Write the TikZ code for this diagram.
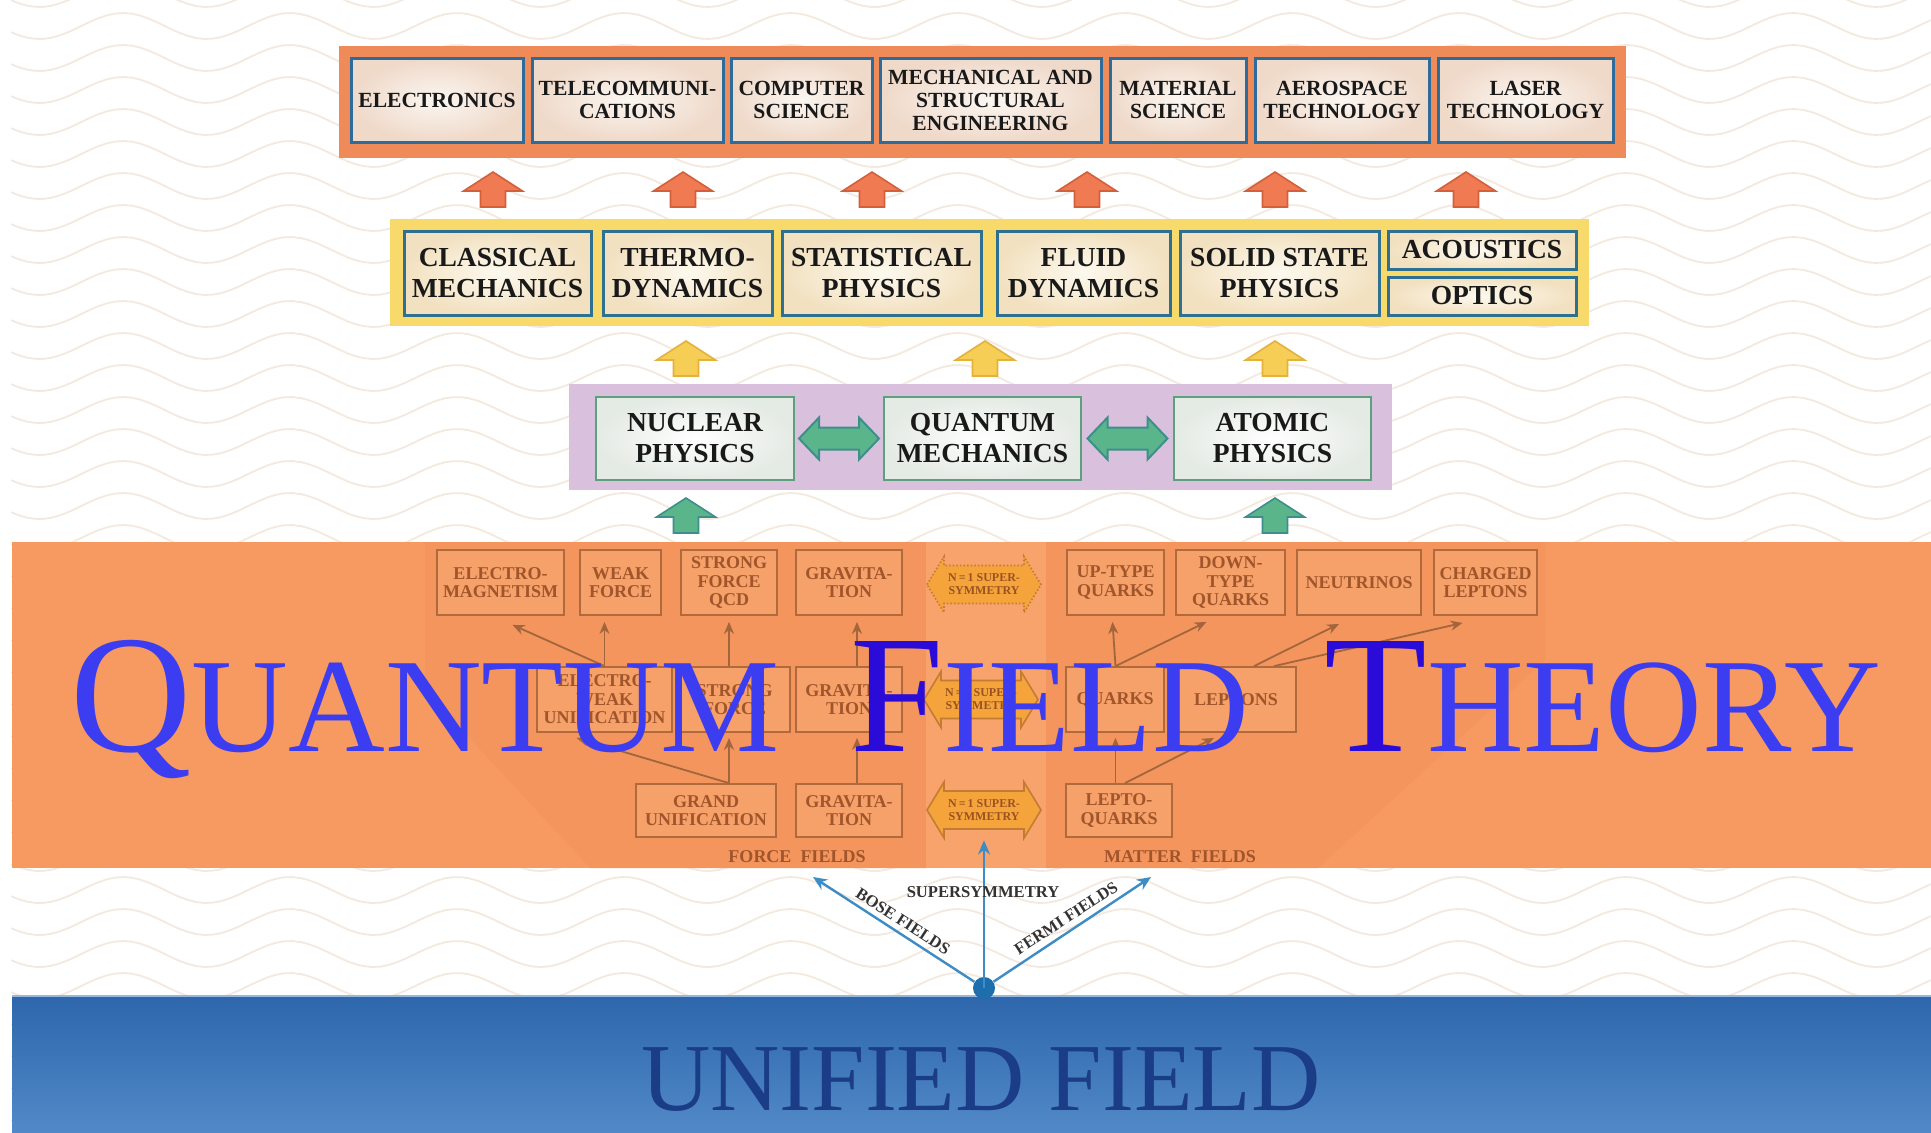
\documentclass[tikz,border=0pt]{standalone}
\usepackage{fontspec}
\usepackage{graphicx}
\setmainfont{Liberation Serif}
\usetikzlibrary{arrows.meta,calc}
\definecolor{waveC}{HTML}{F4E9DE}
\definecolor{engP}{HTML}{EF8B58}
\definecolor{engB}{HTML}{2E6B9A}
\definecolor{engIn}{HTML}{FBF6F1}
\definecolor{engOut}{HTML}{EFD9C9}
\definecolor{yelP}{HTML}{F8D96C}
\definecolor{phyB}{HTML}{2F6F8F}
\definecolor{phyIn}{HTML}{FDF9EF}
\definecolor{phyOut}{HTML}{F2E1C0}
\definecolor{purP}{HTML}{D9C1DD}
\definecolor{qB}{HTML}{5E9F7E}
\definecolor{qIn}{HTML}{FFFFFF}
\definecolor{qOut}{HTML}{E4EAE4}
\definecolor{arrOrF}{HTML}{F07A52}
\definecolor{arrOrD}{HTML}{D2603A}
\definecolor{arrYeF}{HTML}{F6CE55}
\definecolor{arrYeD}{HTML}{E2B23A}
\definecolor{arrGrF}{HTML}{5BB58A}
\definecolor{arrGrD}{HTML}{3E8F8C}
\definecolor{bandC}{HTML}{F79A62}
\definecolor{panelC}{HTML}{F4955D}
\definecolor{centerC}{HTML}{F8A26C}
\definecolor{fF}{HTML}{F6A06A}
\definecolor{fB}{HTML}{B06A3C}
\definecolor{fT}{HTML}{A0552A}
\definecolor{susyF}{HTML}{F5A43C}
\definecolor{susyD}{HTML}{C47C33}
\definecolor{susyT}{HTML}{9A5220}
\definecolor{fLine}{HTML}{A2653C}
\definecolor{titleC}{HTML}{3C3CF0}
\definecolor{titleD}{HTML}{2A0BD8}
\definecolor{blueT}{HTML}{2D66AB}
\definecolor{blueB}{HTML}{5189C8}
\definecolor{ufC}{HTML}{1B3C86}
\definecolor{dotC}{HTML}{1E6EAE}
\definecolor{blueArr}{HTML}{3D8CC6}
\definecolor{labC}{HTML}{333333}
\tikzset{
  upar/.pic={\path[pic actions] (-12.5,0) -- (-12.5,-16) -- (-29.5,-16) -- (0,-35) -- (29.5,-16) -- (12.5,-16) -- (12.5,0) -- cycle;},
  gdbl/.pic={\path[pic actions] (-40,0) -- (-20,-21) -- (-20,-11) -- (20,-11) -- (20,-21) -- (40,0) -- (20,21) -- (20,11) -- (-20,11) -- (-20,21) -- cycle;},
  sdbl/.pic={\path[pic actions] (-57,0) -- (-40,-28) -- (-40,-19) -- (40,-19) -- (40,-28) -- (57,0) -- (40,28) -- (40,19) -- (-40,19) -- (-40,28) -- cycle;},
}
\begin{document}
\begin{tikzpicture}[x=0.5pt,y=-0.5pt,
  engbox/.style={draw=engB, line width=1.5pt, inner color=engIn, outer color=engOut, text=black!90, font=\bfseries\fontsize{10.8}{11.5}\selectfont, align=center, inner sep=0pt, minimum height=42pt},
  phybox/.style={draw=phyB, line width=1.5pt, inner color=phyIn, outer color=phyOut, text=black!90, font=\bfseries\fontsize{13.75}{15.5}\selectfont, align=center, inner sep=0pt, minimum height=42pt},
  qbox/.style={draw=qB, line width=1.2pt, inner color=qIn, outer color=qOut, text=black!90, font=\bfseries\fontsize{13.75}{15.5}\selectfont, align=center, inner sep=0pt, minimum height=41.5pt},
  fbox/.style={draw=fB, line width=0.9pt, fill=fF, text=fT, font=\bfseries\fontsize{9}{9.25}\selectfont, align=center, inner sep=0pt, minimum height=32.5pt},
  susytxt/.style={text=susyT, font=\bfseries\fontsize{6}{6.5}\selectfont, align=center, inner sep=0pt, minimum width=57pt, minimum height=28pt},
  fl/.style={draw=fLine, line width=0.9pt, -{Stealth[length=6pt,width=5pt]}},
  bl/.style={draw=blueArr, line width=1.2pt, -{Stealth[length=7pt,width=6pt]}},
  panel/.style={inner sep=0pt},
  flab/.style={text=fT, font=\bfseries\fontsize{9}{9}\selectfont, inner sep=0pt},
  blab/.style={text=labC, font=\bfseries\fontsize{8.3}{8.3}\selectfont, inner sep=0pt},
]
\useasboundingbox (0,0) rectangle (1931,1132);
\fill[white] (0,0) rectangle (1931,1132);
% wavy background
\begin{scope}
  \clip (11,0) rectangle (1931,1132);
  \foreach \k in {0,...,35}{
    \draw[waveC, line width=0.9pt] plot[domain=11:1931, samples=240] (\x, {-6+32*\k - 13*cos((\x-123)*2.1557)});
  }
\end{scope}
% bands
\fill[bandC] (12,542) rectangle (1931,868);
\fill[panelC] (425,542) -- (926,542) -- (926,868) -- (590,868) -- (425,690) -- cycle;
\fill[panelC] (1046,542) -- (1545,542) -- (1545,660) -- (1318,868) -- (1046,868) -- cycle;
\fill[centerC] (926,542) rectangle (1046,868);
\shade[top color=blueT, bottom color=blueB] (12,995) rectangle (1931,1132);
\draw[blueB!60!white, line width=1pt] (12,995.5) -- (1931,995.5);

% engineering row
\node[panel, fill=engP, minimum width=643.5pt, minimum height=56pt] (engpanel) at (982.5,102) {};
\node[engbox, minimum width=86pt] (elec) at (437,100) {ELECTRONICS};
\node[engbox, minimum width=95.5pt] (tele) at (627.5,100) {TELECOMMUNI-\\CATIONS};
\node[engbox, minimum width=70.5pt] (comp) at (801.5,100) {COMPUTER\\SCIENCE};
\node[engbox, minimum width=110.5pt] (mech) at (990.5,100) {MECHANICAL AND\\STRUCTURAL\\ENGINEERING};
\node[engbox, minimum width=68pt] (matl) at (1178,100) {MATERIAL\\SCIENCE};
\node[engbox, minimum width=87pt] (aero) at (1342,100) {AEROSPACE\\TECHNOLOGY};
\node[engbox, minimum width=87.5pt] (laser) at (1525.5,100) {LASER\\TECHNOLOGY};

% orange up arrows
\foreach \ax in {493,683,872,1087,1275,1466}{
  \pic[fill=arrOrF, draw=arrOrD, line width=0.8pt] at (\ax,207) {upar};
}

% physics row
\node[panel, fill=yelP, minimum width=599.5pt, minimum height=53.5pt] (phypanel) at (989.5,272.5) {};
\node[phybox, minimum width=93.5pt] (cm) at (497.5,273) {CLASSICAL\\MECHANICS};
\node[phybox, minimum width=84.5pt] (thermo) at (687.5,273) {THERMO-\\DYNAMICS};
\node[phybox, minimum width=99.5pt] (stat) at (881.5,273) {STATISTICAL\\PHYSICS};
\node[phybox, minimum width=86.5pt] (fluid) at (1083.5,273) {FLUID\\DYNAMICS};
\node[phybox, minimum width=99.5pt] (solid) at (1279.5,273) {SOLID STATE\\PHYSICS};
\node[phybox, minimum width=94pt, minimum height=19pt] (acou) at (1482,250) {ACOUSTICS};
\node[phybox, minimum width=94pt, minimum height=19pt] (optics) at (1482,296) {OPTICS};

% yellow up arrows
\foreach \ax in {686,985,1275}{
  \pic[fill=arrYeF, draw=arrYeD, line width=0.8pt] at (\ax,376) {upar};
}

% quantum row
\node[panel, fill=purP, minimum width=411.5pt, minimum height=53pt] (qpanel) at (980.5,437) {};
\node[qbox, minimum width=99pt] (nuc) at (695,438.5) {NUCLEAR\\PHYSICS};
\node[qbox, minimum width=98.5pt] (qm) at (982.5,438.5) {QUANTUM\\MECHANICS};
\node[qbox, minimum width=98.5pt] (atom) at (1272.5,438.5) {ATOMIC\\PHYSICS};
\pic[fill=arrGrF, draw=arrGrD, line width=1pt] at ($(nuc.east)!0.5!(qm.west)$) {gdbl};
\pic[fill=arrGrF, draw=arrGrD, line width=1pt] at ($(qm.east)!0.5!(atom.west)$) {gdbl};

% green up arrows
\foreach \ax in {686,1275}{
  \pic[fill=arrGrF, draw=arrGrD, line width=0.8pt] at (\ax,533) {upar};
}

% field theory row 1
\node[fbox, minimum width=63.5pt] (em) at (500.5,582.5) {ELECTRO-\\MAGNETISM};
\node[fbox, minimum width=40.5pt] (weak) at (620.5,582.5) {WEAK\\FORCE};
\node[fbox, minimum width=48pt] (sf1) at (729,582.5) {STRONG\\FORCE\\QCD};
\node[fbox, minimum width=53pt] (grav1) at (849,582.5) {GRAVITA-\\TION};
\pic[fill=susyF, draw=susyD, line width=0.8pt, densely dotted] at (984,584.5) {sdbl};
\node[susytxt] (susy1) at (984,584.5) {N\,=\,1 SUPER-\\SYMMETRY};
\node[fbox, minimum width=48.5pt] (up) at (1115.5,582.5) {UP-TYPE\\QUARKS};
\node[fbox, minimum width=54.5pt] (down) at (1230.5,582.5) {DOWN-\\TYPE\\QUARKS};
\node[fbox, minimum width=62pt] (neu) at (1359,582.5) {NEUTRINOS};
\node[fbox, minimum width=51.5pt] (chl) at (1485.5,582.5) {CHARGED\\LEPTONS};

% row 2
\node[fbox, minimum width=67.5pt] (ew) at (604.5,699.5) {ELECTRO-\\WEAK\\UNIFICATION};
\node[fbox, minimum width=55.5pt] (sf2) at (734.5,699.5) {STRONG\\FORCE};
\node[fbox, minimum width=53pt] (grav2) at (849,699.5) {GRAVITA-\\TION};
\pic[fill=susyF, draw=susyD, line width=0.8pt] at (981,699.5) {sdbl};
\node[susytxt] (susy2) at (981,699.5) {N\,=\,1 SUPER-\\SYMMETRY};
\node[fbox, minimum width=49pt] (quarks) at (1115,699.5) {QUARKS};
\node[fbox, minimum width=60pt] (leptons) at (1236,699.5) {LEPTONS};

% row 3
\node[fbox, minimum width=70pt, minimum height=26.5pt] (gut) at (706,810.5) {GRAND\\UNIFICATION};
\node[fbox, minimum width=53pt, minimum height=26.5pt] (grav3) at (849,810.5) {GRAVITA-\\TION};
\pic[fill=susyF, draw=susyD, line width=0.8pt] at (984,810) {sdbl};
\node[susytxt] (susy3) at (984,810) {N\,=\,1 SUPER-\\SYMMETRY};
\node[fbox, minimum width=53pt, minimum height=26.5pt] (lq) at (1119,810.5) {LEPTO-\\QUARKS};
\node[flab] (forcef) at (797,857) {FORCE\ \ FIELDS};
\node[flab] (matterf) at (1180,857) {MATTER\ \ FIELDS};

% connectors in the band
\draw[fl] (ew.north) -- ($(em.south)+(12,9)$);
\draw[fl] (ew.north) -- ($(ew.north |- weak.south)+(0,6)$);
\draw[fl] (sf2.north -| sf1.south) -- ($(sf1.south)+(0,6)$);
\draw[fl] (gut.north -| sf1.south) -- ($(sf2.south -| sf1.south)+(0,5)$);
\draw[fl] (gut.north -| sf1.south) -- ($(ew.south)+(-28,5)$);
\draw[fl] ($(grav2.north)+(8,0)$) -- ($(grav1.south)+(8,6)$);
\draw[fl] ($(grav3.north)+(8,0)$) -- ($(grav2.south)+(8,5)$);
\draw[fl] (up.south |- quarks.north) -- ($(up.south)+(-3,6)$);
\draw[fl] (up.south |- lq.north) -- ($(up.south |- quarks.south)+(0,5)$);
\draw[fl] ($(lq.north)+(6,0)$) -- ($(leptons.south)+(-22,5)$);
\draw[fl] (up.south |- quarks.north) -- ($(down.south)+(-24,6)$);
\draw[fl] ($(leptons.north)+(18,0)$) -- ($(neu.south)+(-20,8)$);
\draw[fl] ($(leptons.north)+(38,0)$) -- ($(chl.south)+(-23,7)$);

% title
\node[anchor=base west, inner sep=0pt, text=titleC] (tq) at (70,751) {\fontsize{84}{84}\selectfont Q\fontsize{67}{67}\selectfont UANTUM};
\node[anchor=base west, inner sep=0pt, text=titleC] (tf) at (850,751) {\fontsize{84}{84}\selectfont\textcolor{titleD}{F}\fontsize{67}{67}\selectfont IELD};
\node[anchor=base west, inner sep=0pt, text=titleC] (tt) at (1324,751) {\fontsize{84}{84}\selectfont\textcolor{titleD}{T}\fontsize{67}{67}\selectfont HEORY};

% unified field
\node[circle, fill=dotC, minimum size=11pt, inner sep=0pt] (dot) at (984,988) {};
\coordinate (bosetip) at (813,877);
\coordinate (fermitip) at (1151,877);
\draw[bl] (dot.center) -- ($(susy3.south)+(0,2)$);
\draw[bl] (dot) -- (bosetip);
\draw[bl] (dot) -- (fermitip);
\node[blab] (susylab) at (983,892) {SUPERSYMMETRY};
\node[blab, rotate=-33] (boselab) at (903,921) {BOSE FIELDS};
\node[blab, rotate=33] (fermilab) at (1066,918) {FERMI FIELDS};
\node[anchor=base, inner sep=0pt, text=ufC] (uf) at (981,1110) {\fontsize{48}{48}\selectfont UNIFIED FIELD};
\end{tikzpicture}
\end{document}
